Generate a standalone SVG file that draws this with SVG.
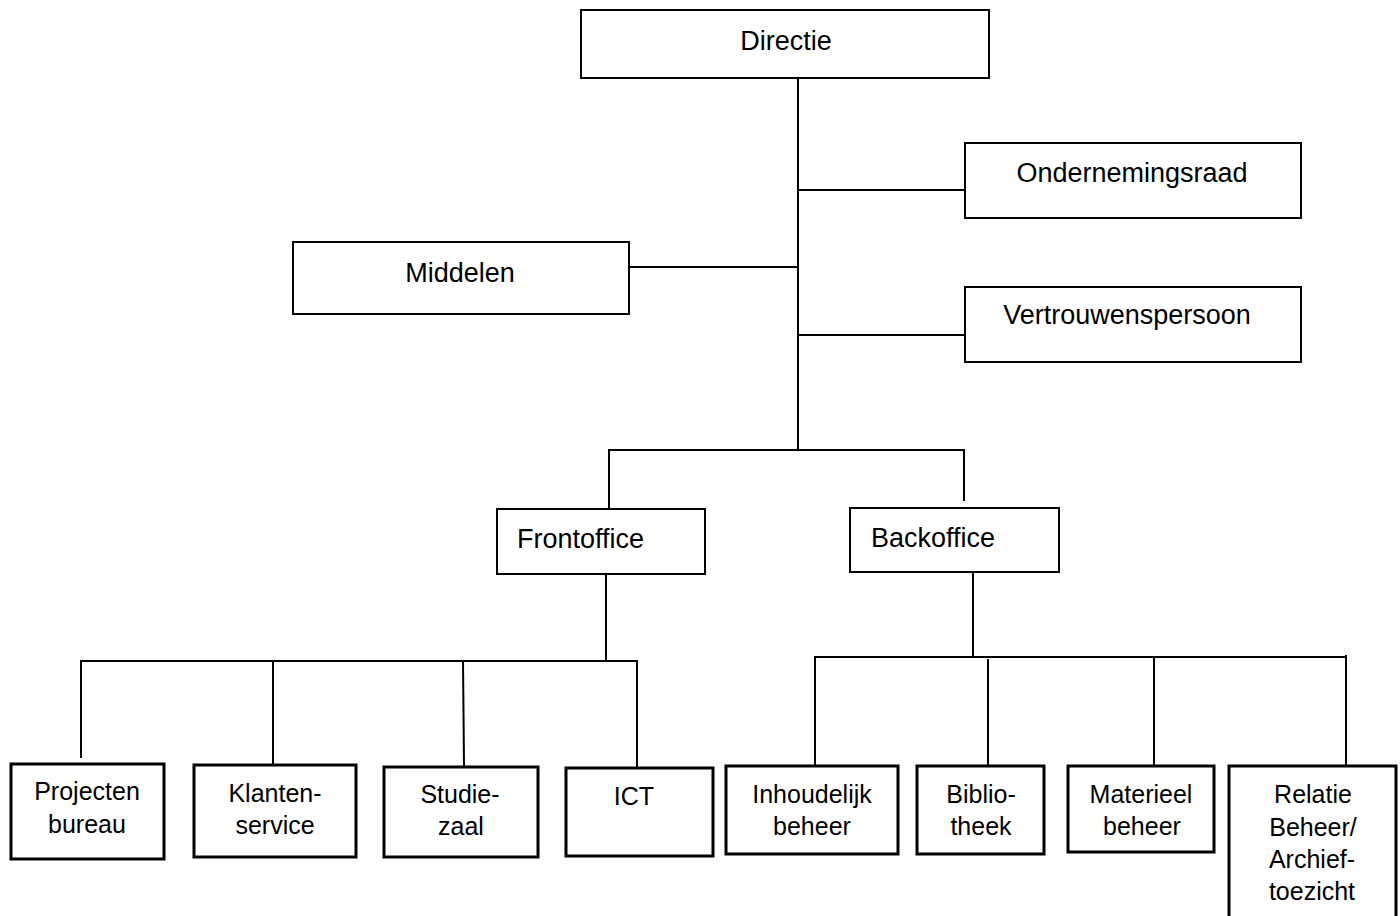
<svg xmlns="http://www.w3.org/2000/svg" width="1400" height="916" viewBox="0 0 1400 916">
<style>
.box{fill:#fff;stroke:#000;stroke-width:2}
.bbox{fill:#fff;stroke:#000;stroke-width:3}
.ln{stroke:#000;stroke-width:2;fill:none}
text{font-family:"Liberation Sans",Arial,sans-serif;fill:#000;text-anchor:middle}
.t1{font-size:27px}
.t2{font-size:25px}
</style>
<rect width="1400" height="916" fill="#fff"/>
<g id="connectors">
<line class="ln" x1="798" y1="78" x2="798" y2="450"/>
<line class="ln" x1="798" y1="190" x2="965" y2="190"/>
<line class="ln" x1="629" y1="267" x2="798" y2="267"/>
<line class="ln" x1="798" y1="335" x2="965" y2="335"/>
<line class="ln" x1="608" y1="450" x2="965" y2="450"/>
<line class="ln" x1="609" y1="450" x2="609" y2="508"/>
<line class="ln" x1="964" y1="450" x2="964" y2="501"/>
<line class="ln" x1="606" y1="574" x2="606" y2="661"/>
<line class="ln" x1="80" y1="661" x2="638" y2="661"/>
<line class="ln" x1="81" y1="661" x2="81" y2="758"/>
<line class="ln" x1="273" y1="661" x2="273" y2="764"/>
<line class="ln" x1="463" y1="660" x2="464" y2="766"/>
<line class="ln" x1="637" y1="661" x2="637" y2="767"/>
<line class="ln" x1="973" y1="572" x2="973" y2="658"/>
<line class="ln" x1="814" y1="657" x2="1347" y2="657"/>
<line class="ln" x1="815" y1="657" x2="815" y2="765"/>
<line class="ln" x1="988" y1="659" x2="988" y2="766"/>
<line class="ln" x1="1154" y1="657" x2="1154" y2="765"/>
<line class="ln" x1="1346" y1="655" x2="1346" y2="765"/>
</g>
<g id="directie"><rect class="box" x="581" y="10" width="408" height="68"/><text class="t1" x="786" y="50">Directie</text></g>
<g id="ondernemingsraad"><rect class="box" x="965" y="143" width="336" height="75"/><text class="t1" x="1132" y="182">Ondernemingsraad</text></g>
<g id="middelen"><rect class="box" x="293" y="242" width="336" height="72"/><text class="t1" x="460" y="282">Middelen</text></g>
<g id="vertrouwenspersoon"><rect class="box" x="965" y="287" width="336" height="75"/><text class="t1" x="1127" y="324">Vertrouwenspersoon</text></g>
<g id="frontoffice"><rect class="box" x="497" y="509" width="208" height="65"/><text class="t1" x="517" y="548" style="text-anchor:start">Frontoffice</text></g>
<g id="backoffice"><rect class="box" x="850" y="508" width="209" height="64"/><text class="t1" x="871" y="547" style="text-anchor:start">Backoffice</text></g>
<g id="projecten"><rect class="bbox" x="11" y="764" width="153" height="95"/><text class="t2" x="87" y="800">Projecten</text><text class="t2" x="87" y="833">bureau</text></g>
<g id="klantenservice"><rect class="bbox" x="194" y="765" width="162" height="92"/><text class="t2" x="275" y="802">Klanten-</text><text class="t2" x="275" y="834">service</text></g>
<g id="studiezaal"><rect class="bbox" x="384" y="767" width="154" height="90"/><text class="t2" x="460" y="803">Studie-</text><text class="t2" x="461" y="835">zaal</text></g>
<g id="ict"><rect class="bbox" x="566" y="768" width="147" height="88"/><text class="t2" x="634" y="805">ICT</text></g>
<g id="inhoudelijk"><rect class="bbox" x="726" y="766" width="172" height="88"/><text class="t2" x="812" y="803">Inhoudelijk</text><text class="t2" x="812" y="835">beheer</text></g>
<g id="bibliotheek"><rect class="bbox" x="917" y="766" width="127" height="88"/><text class="t2" x="981" y="803">Biblio-</text><text class="t2" x="981" y="835">theek</text></g>
<g id="materieel"><rect class="bbox" x="1068" y="766" width="146" height="86"/><text class="t2" x="1141" y="803">Materieel</text><text class="t2" x="1142" y="835">beheer</text></g>
<g id="relatie"><rect class="bbox" x="1229" y="766" width="167" height="170"/><text class="t2" x="1313" y="803">Relatie</text><text class="t2" x="1313" y="836">Beheer/</text><text class="t2" x="1312" y="868">Archief-</text><text class="t2" x="1312" y="900">toezicht</text></g>
</svg>
